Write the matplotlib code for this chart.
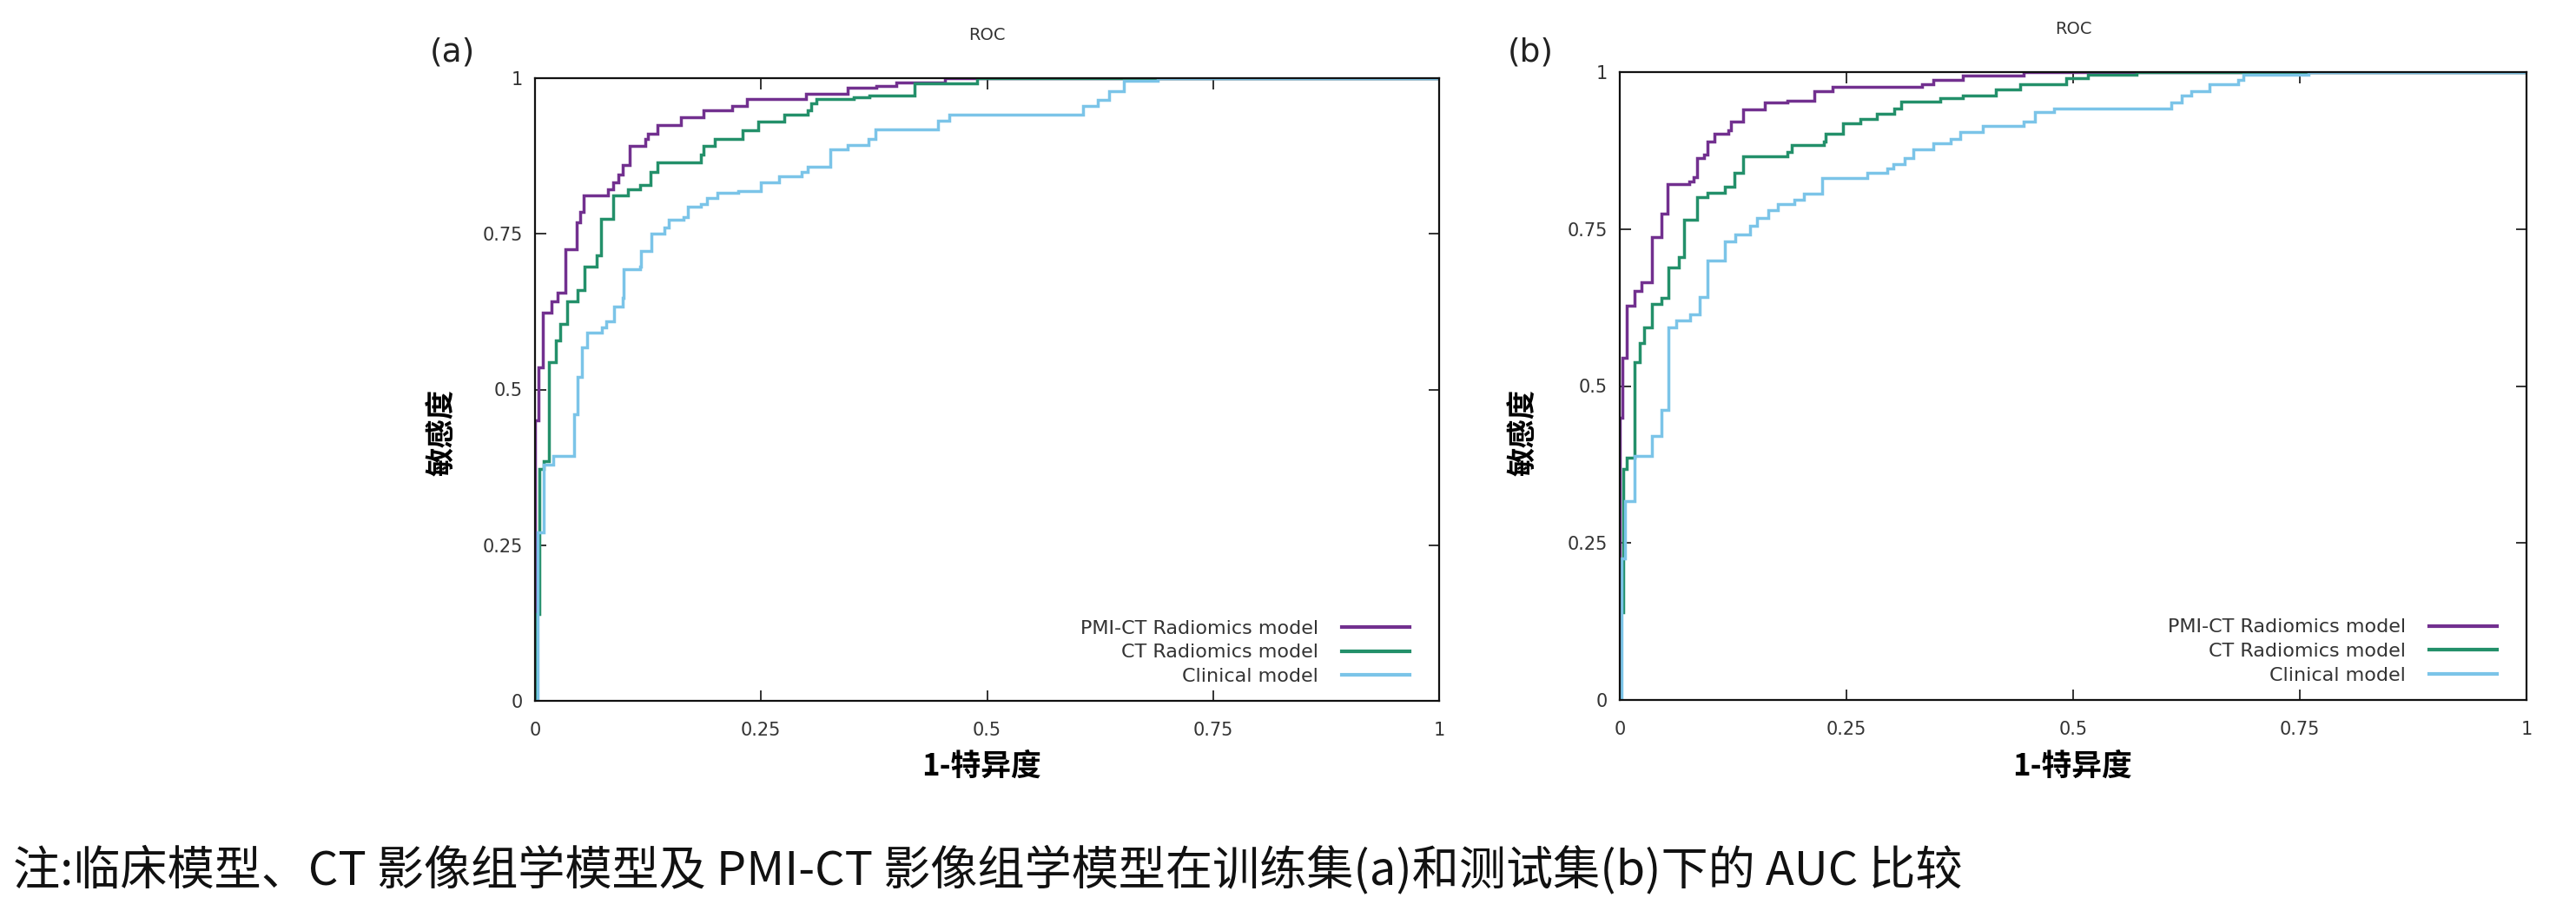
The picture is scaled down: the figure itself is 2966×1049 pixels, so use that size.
import matplotlib
matplotlib.use("Agg")
import matplotlib.pyplot as plt

plt.rcParams["font.family"] = ["DejaVu Sans"]
CJK = ["Noto Sans CJK SC", "DejaVu Sans"]

W, H = 2966, 1049

series_names = ["PMI-CT Radiomics model", "CT Radiomics model", "Clinical model"]
series_colors = ["#72308f", "#23906a", "#7bc4e8"]
tick_values = [0, 0.25, 0.5, 0.75, 1]
tick_labels = ["0", "0.25", "0.5", "0.75", "1"]

# training set (a)
a_pmi_fpr = [0, 0, 0.004, 0.009, 0.018, 0.025, 0.034, 0.046, 0.050, 0.054, 0.081, 0.086, 0.092,
             0.097, 0.105, 0.122, 0.125, 0.135, 0.161, 0.186, 0.218, 0.234, 0.300, 0.346, 0.378,
             0.400, 0.453, 1.0]
a_pmi_tpr = [0, 0.45, 0.535, 0.623, 0.642, 0.656, 0.725, 0.768, 0.785, 0.812, 0.821, 0.833, 0.845,
             0.861, 0.891, 0.902, 0.911, 0.925, 0.937, 0.949, 0.956, 0.967, 0.975, 0.984, 0.988,
             0.993, 1.0, 1.0]
a_ct_fpr = [0, 0, 0.005, 0.010, 0.015, 0.023, 0.028, 0.036, 0.047, 0.055, 0.068, 0.073, 0.086,
            0.103, 0.116, 0.128, 0.135, 0.183, 0.186, 0.199, 0.230, 0.247, 0.276, 0.302, 0.305,
            0.311, 0.353, 0.370, 0.420, 0.489, 1.0]
a_ct_tpr = [0, 0.14, 0.372, 0.385, 0.544, 0.579, 0.605, 0.642, 0.660, 0.698, 0.716, 0.774, 0.812,
            0.821, 0.828, 0.849, 0.865, 0.877, 0.891, 0.902, 0.916, 0.930, 0.942, 0.949, 0.960,
            0.967, 0.970, 0.972, 0.991, 1.0, 1.0]
a_cli_fpr = [0, 0.003, 0.010, 0.020, 0.043, 0.047, 0.052, 0.058, 0.074, 0.079, 0.087, 0.097, 0.098,
             0.116, 0.1175, 0.129, 0.143, 0.148, 0.164, 0.169, 0.183, 0.190, 0.202, 0.225, 0.250,
             0.270, 0.295, 0.302, 0.327, 0.346, 0.369, 0.377, 0.446, 0.458, 0.606, 0.622, 0.635,
             0.651, 0.689, 1.0]
a_cli_tpr = [0, 0.27, 0.38, 0.393, 0.46, 0.52, 0.568, 0.591, 0.600, 0.609, 0.633, 0.647, 0.693,
             0.698, 0.723, 0.751, 0.760, 0.772, 0.777, 0.793, 0.798, 0.807, 0.816, 0.819, 0.833,
             0.842, 0.849, 0.858, 0.886, 0.893, 0.902, 0.918, 0.931, 0.942, 0.956, 0.965, 0.979,
             0.996, 1.0, 1.0]

# test set (b)
b_pmi_fpr = [0, 0, 0.003, 0.008, 0.016, 0.024, 0.035, 0.046, 0.053, 0.077, 0.081, 0.085, 0.093,
             0.097, 0.104, 0.120, 0.123, 0.136, 0.160, 0.185, 0.215, 0.235, 0.333, 0.346, 0.378,
             0.445, 1.0]
b_pmi_tpr = [0, 0.45, 0.545, 0.628, 0.651, 0.665, 0.737, 0.774, 0.822, 0.826, 0.833, 0.863, 0.868,
             0.889, 0.902, 0.907, 0.921, 0.940, 0.951, 0.955, 0.969, 0.976, 0.981, 0.988, 0.995,
             1.0, 1.0]
b_ct_fpr = [0, 0, 0.004, 0.008, 0.016, 0.0225, 0.027, 0.035, 0.046, 0.054, 0.065, 0.071, 0.085,
            0.097, 0.116, 0.126, 0.136, 0.185, 0.190, 0.225, 0.227, 0.246, 0.265, 0.284, 0.303,
            0.310, 0.353, 0.378, 0.415, 0.442, 0.492, 0.516, 0.570, 1.0]
b_ct_tpr = [0, 0.14, 0.368, 0.386, 0.538, 0.568, 0.594, 0.631, 0.640, 0.689, 0.705, 0.765, 0.801,
            0.808, 0.817, 0.840, 0.866, 0.873, 0.884, 0.889, 0.902, 0.919, 0.926, 0.934, 0.942,
            0.953, 0.958, 0.963, 0.972, 0.981, 0.990, 0.996, 1.0, 1.0]
b_cli_fpr = [0, 0.002, 0.006, 0.016, 0.035, 0.046, 0.054, 0.062, 0.078, 0.088, 0.097, 0.116, 0.127,
             0.144, 0.151, 0.164, 0.174, 0.193, 0.203, 0.223, 0.273, 0.295, 0.302, 0.314, 0.324,
             0.346, 0.365, 0.375, 0.400, 0.445, 0.458, 0.479, 0.608, 0.620, 0.630, 0.650, 0.682,
             0.688, 0.760, 1.0]
b_cli_tpr = [0, 0.225, 0.317, 0.389, 0.421, 0.462, 0.594, 0.605, 0.614, 0.642, 0.700, 0.730, 0.741,
             0.755, 0.767, 0.780, 0.790, 0.797, 0.806, 0.831, 0.840, 0.847, 0.854, 0.863, 0.877,
             0.886, 0.893, 0.905, 0.914, 0.921, 0.937, 0.942, 0.951, 0.963, 0.970, 0.981, 0.988,
             0.996, 1.0, 1.0]

panels = [
    {
        "tag": "(a)",
        "rect": (616, 90, 1657, 807),
        "curves": [(a_pmi_fpr, a_pmi_tpr), (a_ct_fpr, a_ct_tpr), (a_cli_fpr, a_cli_tpr)],
        "tag_xy": (521, 61),
        "ylab_xy": (510, 498),
        "xlab_xy": (1130, 882),
    },
    {
        "tag": "(b)",
        "rect": (1865, 83, 2909, 806),
        "curves": [(b_pmi_fpr, b_pmi_tpr), (b_ct_fpr, b_ct_tpr), (b_cli_fpr, b_cli_tpr)],
        "tag_xy": (1762, 61),
        "ylab_xy": (1755, 498),
        "xlab_xy": (2386, 882),
    },
]

caption = "注:临床模型、CT 影像组学模型及 PMI-CT 影像组学模型在训练集(a)和测试集(b)下的 AUC 比较"


def fig_xy(px, py):
    return px / W, 1 - py / H


fig = plt.figure(figsize=(W / 100, H / 100), dpi=100)

for p in panels:
    x0, y0, x1, y1 = p["rect"]
    ax = fig.add_axes([x0 / W, 1 - y1 / H, (x1 - x0) / W, (y1 - y0) / H])
    for (fpr, tpr), name, color in zip(p["curves"], series_names, series_colors):
        ax.plot(fpr, tpr, drawstyle="steps-post", color=color, lw=2.5, label=name,
                solid_joinstyle="miter")
    ax.set_xlim(0, 1)
    ax.set_ylim(0, 1)
    ax.set_xticks(tick_values)
    ax.set_xticklabels(tick_labels)
    ax.set_yticks(tick_values)
    ax.set_yticklabels(tick_labels)
    ax.tick_params(direction="in", length=9, width=1.4, color="#333333", labelsize=15,
                   labelcolor="#333333", top=True, right=True)
    ax.tick_params(axis="x", pad=17)
    ax.tick_params(axis="y", pad=10)
    for sp in ax.spines.values():
        sp.set_linewidth(1.6)
        sp.set_color("#111111")
    ax.set_title("ROC", fontsize=14, color="#333333", pad=32)

    leg = ax.legend(loc="lower right", bbox_to_anchor=(0.967, 0.025), frameon=False,
                    markerfirst=False, handlelength=3.5, handletextpad=1.2,
                    labelspacing=0.35, borderpad=0, borderaxespad=0, fontsize=16)
    for t in leg.get_texts():
        t.set_color("#333333")
    for ln in leg.get_lines():
        ln.set_linewidth(3)

    tx, ty = fig_xy(*p["tag_xy"])
    fig.text(tx, ty, p["tag"], fontsize=27, ha="center", va="center", color="#222222")
    lx, ly = fig_xy(*p["ylab_xy"])
    fig.text(lx, ly, "敏感度", family=CJK, fontsize=24, fontweight="bold",
             rotation=90, ha="center", va="center")
    bx, by = fig_xy(*p["xlab_xy"])
    fig.text(bx, by, "1-特异度", family=CJK, fontsize=25, fontweight="bold",
             ha="center", va="center")

cx, cy = fig_xy(15, 1002)
fig.text(cx, cy, caption, family=CJK, fontsize=39, ha="left", va="center", color="#111111")

fig.savefig("out.png", dpi=100)
